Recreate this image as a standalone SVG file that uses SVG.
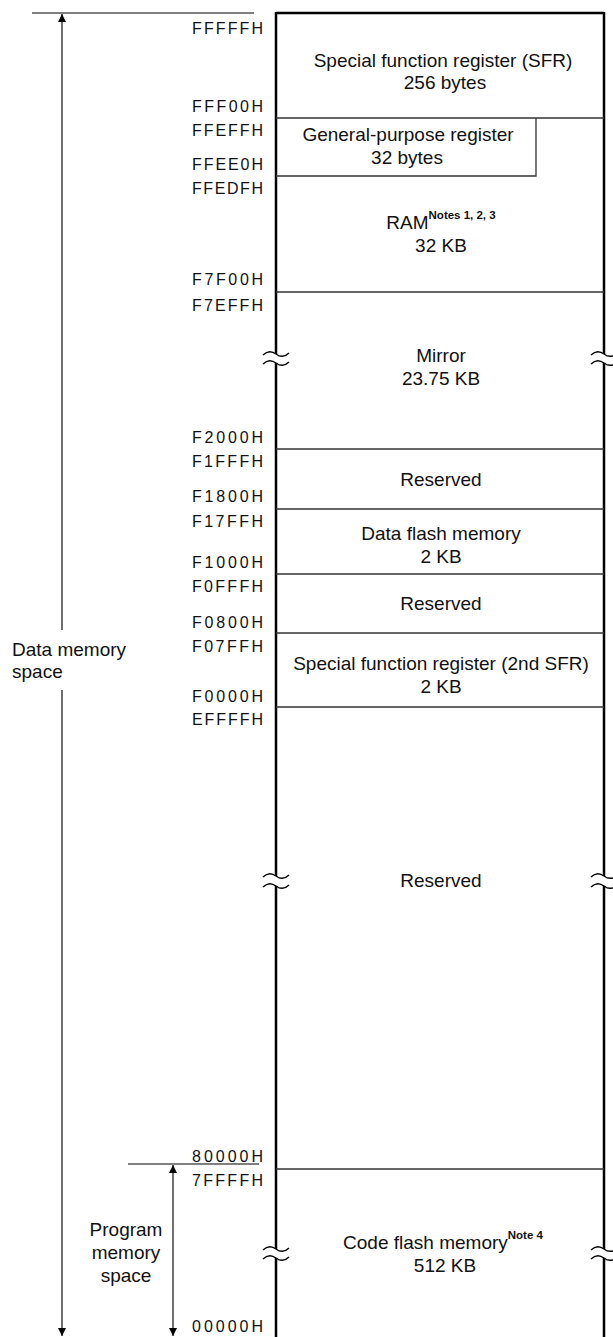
<svg xmlns="http://www.w3.org/2000/svg" width="613" height="1337" viewBox="0 0 613 1337">
<style>
  .t { font-family: "Liberation Sans", Arial, sans-serif; font-size: 19px; fill: #111; }
  .c { text-anchor: middle; }
  .sup { font-size: 11.5px; font-weight: bold; }
  .addr { font-family: "Liberation Sans", Arial, sans-serif; font-size: 16px; fill: #111; }
  .border { stroke: #000; stroke-width: 2.5; fill: none; }
  .div { stroke: #333; stroke-width: 1.3; fill: none; }
  .wave { stroke: #000; stroke-width: 1.4; fill: none; }
  .ext { stroke: #555; stroke-width: 1.5; fill: none; }
  .arr { stroke: #222; stroke-width: 1.3; fill: none; }
</style>
<defs>
  <marker id="ah" viewBox="0 0 8 13" refX="8" refY="6.5" markerWidth="8" markerHeight="13" markerUnits="userSpaceOnUse" orient="auto">
    <path d="M0,2.5 L8,6.5 L0,10.5 Z" fill="#000"/>
  </marker>
  <path id="wv" d="M-13,2 c4,-4 9,-4 13,-1 s9,3 13,-1"/>
</defs>

<g id="connectors">
  <line class="ext" x1="32" y1="13" x2="254" y2="13"/>
  <line class="ext" x1="128" y1="1164" x2="259" y2="1164"/>
  <line class="arr" x1="62" y1="630" x2="62" y2="14" marker-end="url(#ah)"/>
  <line class="arr" x1="62" y1="690" x2="62" y2="1336" marker-end="url(#ah)"/>
  <line class="arr" x1="173" y1="1250" x2="173" y2="1165" marker-end="url(#ah)"/>
  <line class="arr" x1="173" y1="1250" x2="173" y2="1336" marker-end="url(#ah)"/>
</g>

<g id="memory-box">
  <line class="border" x1="276" y1="13" x2="604" y2="13"/>
  <path class="border" d="M276,12 V354 M276,363 V876 M276,886 V1249 M276,1258 V1337"/>
  <path class="border" d="M604,12 V354 M604,363 V876 M604,886 V1249 M604,1258 V1337"/>
  <g id="breaks">
    <use href="#wv" class="wave" x="276" y="353"/>
    <use href="#wv" class="wave" x="276" y="362"/>
    <use href="#wv" class="wave" x="604" y="353"/>
    <use href="#wv" class="wave" x="604" y="362"/>
    <use href="#wv" class="wave" x="276" y="875"/>
    <use href="#wv" class="wave" x="276" y="885"/>
    <use href="#wv" class="wave" x="604" y="875"/>
    <use href="#wv" class="wave" x="604" y="885"/>
    <use href="#wv" class="wave" x="276" y="1248"/>
    <use href="#wv" class="wave" x="276" y="1257"/>
    <use href="#wv" class="wave" x="604" y="1248"/>
    <use href="#wv" class="wave" x="604" y="1257"/>
  </g>
</g>

<g id="sfr">
  <line class="div" x1="276" y1="118" x2="604" y2="118"/>
  <text class="t c" x="443" y="67">Special function register (SFR)</text>
  <text class="t c" x="445" y="89">256 bytes</text>
</g>

<g id="gpr">
  <path class="div" d="M276,176 H536 V118"/>
  <text class="t c" x="408" y="141">General-purpose register</text>
  <text class="t c" x="407" y="164">32 bytes</text>
</g>

<g id="ram">
  <line class="div" x1="276" y1="292" x2="604" y2="292"/>
  <text class="t c" x="441" y="229">RAM<tspan class="sup" dy="-10">Notes 1, 2, 3</tspan></text>
  <text class="t c" x="441" y="252">32 KB</text>
</g>

<g id="mirror">
  <line class="div" x1="276" y1="449" x2="604" y2="449"/>
  <text class="t c" x="441" y="362">Mirror</text>
  <text class="t c" x="441" y="385">23.75 KB</text>
</g>

<g id="reserved1">
  <line class="div" x1="276" y1="509" x2="604" y2="509"/>
  <text class="t c" x="441" y="486">Reserved</text>
</g>

<g id="data-flash">
  <line class="div" x1="276" y1="574" x2="604" y2="574"/>
  <text class="t c" x="441" y="540">Data flash memory</text>
  <text class="t c" x="441" y="563">2 KB</text>
</g>

<g id="reserved2">
  <line class="div" x1="276" y1="633" x2="604" y2="633"/>
  <text class="t c" x="441" y="610">Reserved</text>
</g>

<g id="sfr2">
  <line class="div" x1="276" y1="707" x2="604" y2="707"/>
  <text class="t c" x="441" y="670">Special function register (2nd SFR)</text>
  <text class="t c" x="441" y="693">2 KB</text>
</g>

<g id="reserved3">
  <line class="div" x1="276" y1="1169" x2="604" y2="1169"/>
  <text class="t c" x="441" y="887">Reserved</text>
</g>

<g id="code-flash">
  <text class="t c" x="443" y="1249">Code flash memory<tspan class="sup" dy="-10">Note 4</tspan></text>
  <text class="t c" x="445" y="1272">512 KB</text>
</g>

<g id="addresses">
  <text class="addr" x="192" y="34" textLength="71" lengthAdjust="spacing">FFFFFH</text>
  <text class="addr" x="192" y="112" textLength="71" lengthAdjust="spacing">FFF00H</text>
  <text class="addr" x="192" y="136" textLength="71" lengthAdjust="spacing">FFEFFH</text>
  <text class="addr" x="192" y="170" textLength="71" lengthAdjust="spacing">FFEE0H</text>
  <text class="addr" x="192" y="194" textLength="71" lengthAdjust="spacing">FFEDFH</text>
  <text class="addr" x="192" y="285" textLength="71" lengthAdjust="spacing">F7F00H</text>
  <text class="addr" x="192" y="311" textLength="71" lengthAdjust="spacing">F7EFFH</text>
  <text class="addr" x="192" y="443" textLength="71" lengthAdjust="spacing">F2000H</text>
  <text class="addr" x="192" y="467" textLength="71" lengthAdjust="spacing">F1FFFH</text>
  <text class="addr" x="192" y="502" textLength="71" lengthAdjust="spacing">F1800H</text>
  <text class="addr" x="192" y="527" textLength="71" lengthAdjust="spacing">F17FFH</text>
  <text class="addr" x="192" y="568" textLength="71" lengthAdjust="spacing">F1000H</text>
  <text class="addr" x="192" y="592" textLength="71" lengthAdjust="spacing">F0FFFH</text>
  <text class="addr" x="192" y="628" textLength="71" lengthAdjust="spacing">F0800H</text>
  <text class="addr" x="192" y="652" textLength="71" lengthAdjust="spacing">F07FFH</text>
  <text class="addr" x="192" y="702" textLength="71" lengthAdjust="spacing">F0000H</text>
  <text class="addr" x="192" y="725" textLength="71" lengthAdjust="spacing">EFFFFH</text>
  <text class="addr" x="192" y="1162" textLength="71" lengthAdjust="spacing">80000H</text>
  <text class="addr" x="192" y="1186" textLength="71" lengthAdjust="spacing">7FFFFH</text>
  <text class="addr" x="192" y="1332" textLength="71" lengthAdjust="spacing">00000H</text>
</g>

<g id="data-memory-space">
  <text class="t" x="12" y="656">Data memory</text>
  <text class="t" x="12" y="678">space</text>
</g>

<g id="program-memory-space">
  <text class="t c" x="126" y="1236">Program</text>
  <text class="t c" x="126" y="1259">memory</text>
  <text class="t c" x="126" y="1282">space</text>
</g>
</svg>
